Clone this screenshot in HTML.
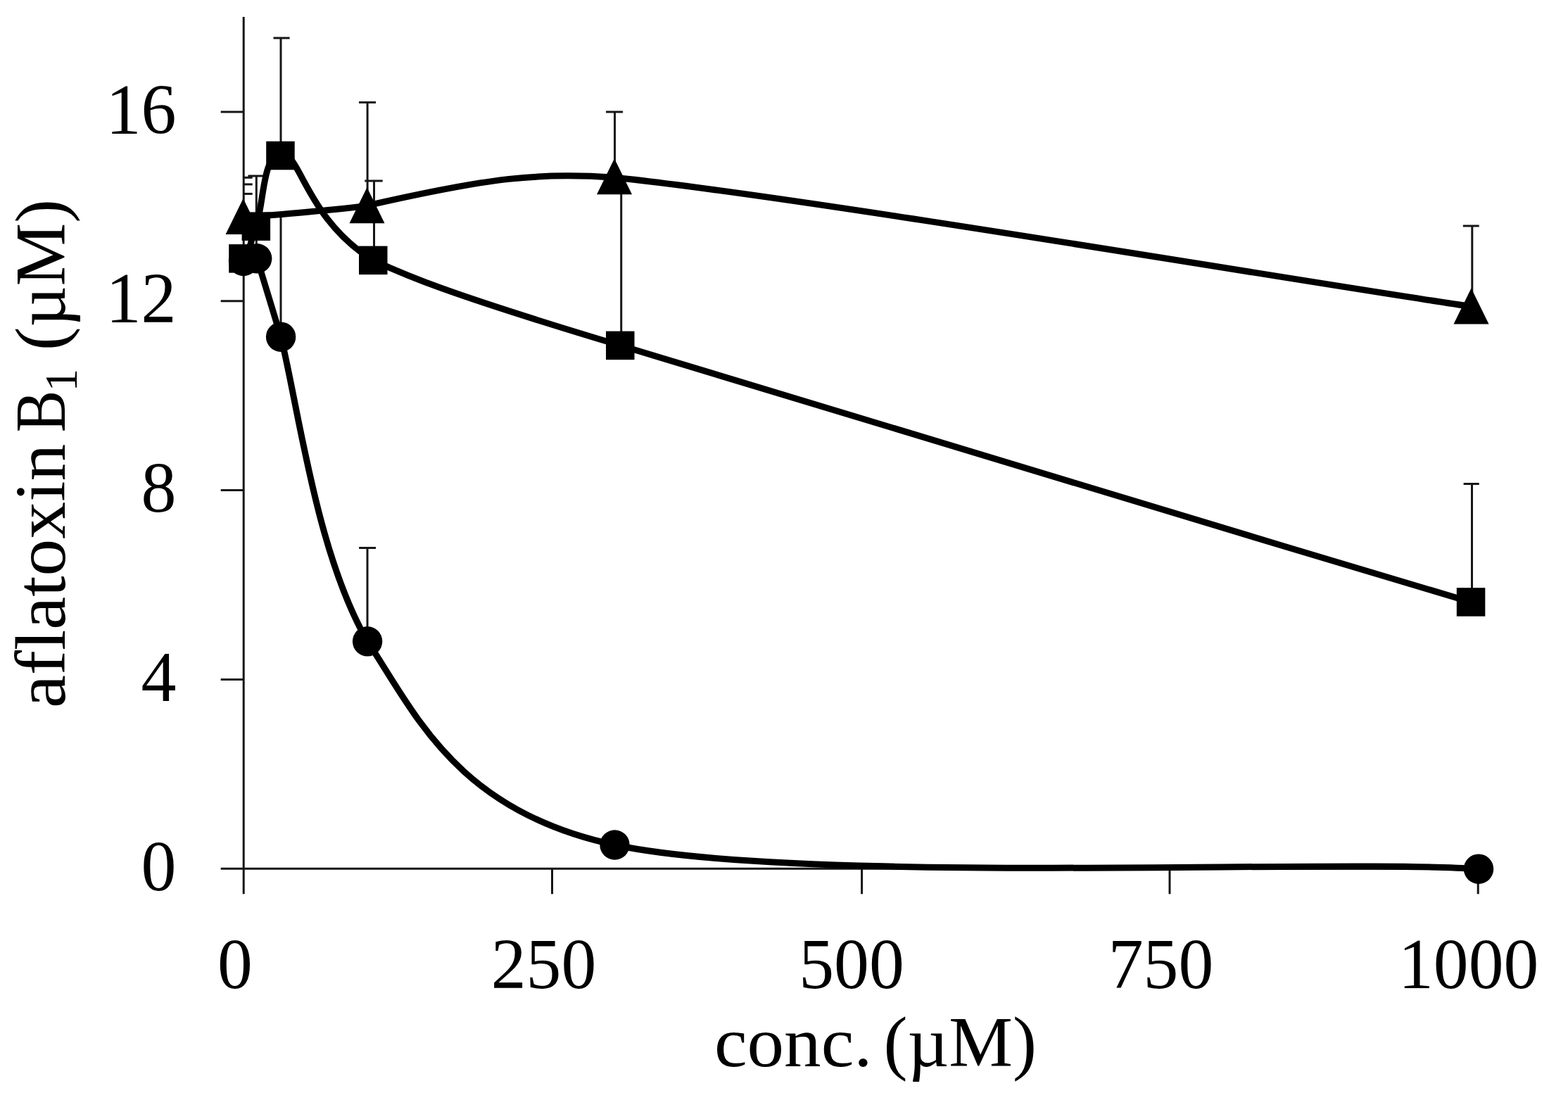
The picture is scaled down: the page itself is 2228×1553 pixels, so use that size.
<!DOCTYPE html>
<html lang="en">
<head>
<meta charset="utf-8">
<title>aflatoxin B1 vs conc.</title>
<style>
html,body{margin:0;padding:0;background:#fff;}
body{width:2228px;height:1553px;overflow:hidden;}
svg{display:block;filter:blur(0.6px);}
text{font-family:"Liberation Serif", serif;fill:#000;}
</style>
</head>
<body>
<svg width="2228" height="1553" viewBox="0 0 2228 1553">
<rect width="2228" height="1553" fill="#fff"/>
<g stroke="#161616" stroke-width="3" fill="none">
<line x1="346.2" y1="24" x2="346.2" y2="1270.3"/>
<line x1="313.7" y1="1234.2" x2="2100" y2="1234.2"/>
<line x1="313.7" y1="965.4" x2="346.2" y2="965.4"/>
<line x1="313.7" y1="696.6" x2="346.2" y2="696.6"/>
<line x1="313.7" y1="427.8" x2="346.2" y2="427.8"/>
<line x1="313.7" y1="159.0" x2="346.2" y2="159.0"/>
<line x1="784.5" y1="1234.2" x2="784.5" y2="1270.3"/>
<line x1="1224.6" y1="1234.2" x2="1224.6" y2="1270.3"/>
<line x1="1662.0" y1="1234.2" x2="1662.0" y2="1270.3"/>
<line x1="2100.2" y1="1234.2" x2="2100.2" y2="1270.3"/>
</g>
<g stroke="#161616" stroke-width="3" fill="none">
<line x1="399.0" y1="54.0" x2="399.0" y2="221.0"/>
<line x1="388.5" y1="54.0" x2="411.6" y2="54.0"/>
<line x1="399" y1="303" x2="399" y2="478"/>
<line x1="522.1" y1="145.5" x2="522.1" y2="292.0"/>
<line x1="510.0" y1="145.5" x2="534.0" y2="145.5"/>
<line x1="531.5" y1="257.0" x2="531.5" y2="370.0"/>
<line x1="518.3" y1="257.0" x2="543.7" y2="257.0"/>
<line x1="522.0" y1="778.5" x2="522.0" y2="911.0"/>
<line x1="510.1" y1="778.5" x2="534.1" y2="778.5"/>
<line x1="873.5" y1="159.0" x2="873.5" y2="252.0"/>
<line x1="861.0" y1="159.0" x2="885.0" y2="159.0"/>
<line x1="882.7" y1="272.0" x2="882.7" y2="491.0"/>
<line x1="872.0" y1="272.0" x2="893.0" y2="272.0"/>
<line x1="2091.8" y1="321.0" x2="2091.8" y2="436.0"/>
<line x1="2078.8" y1="321.0" x2="2101.7" y2="321.0"/>
<line x1="2091.5" y1="687.5" x2="2091.5" y2="856.0"/>
<line x1="2079.6" y1="687.5" x2="2101.7" y2="687.5"/>
<line x1="364.3" y1="250.0" x2="364.3" y2="367.0"/>
<line x1="352.5" y1="250.0" x2="374.0" y2="250.0"/>
<line x1="346.2" y1="252.3" x2="358.7" y2="252.3"/>
<line x1="346.2" y1="261.9" x2="358.7" y2="261.9"/>
<line x1="346.2" y1="275.4" x2="358.7" y2="275.4"/>
</g>
<g stroke="#000" stroke-width="9" fill="none" stroke-linejoin="round" stroke-linecap="round">
<path d="M345.6 308.0 C373.7 307.2 480.5 297.8 521.5 292.2 C697.2 252.1 766.2 244.7 873.0 252.3 C1129.8 278.2 1889.7 406.6 2090.5 435.5"/>
<path d="M345.5 367.3 C356.9 356.3 355.3 342.1 363.8 321.7 C375.6 287.0 372.8 220.6 398.5 221.0 C425.2 208.8 432.2 309.8 530.2 369.9 C576.0 390.8 628.0 414.8 881.2 490.8 C1282.0 615.2 1686.5 734.7 2090.0 855.5"/>
<path d="M346.0 371.0 C349.2 370.4 356.3 349.4 365.2 367.3 C376.5 404.4 387.8 441.6 399.1 478.7 C423.3 574.4 448.7 784.6 522.1 911.3 C589.0 1011.9 647.8 1152.6 873.5 1200.5 C1137.2 1256.5 1894.8 1220.2 2101.0 1234.7"/>
</g>
<g fill="#000">
<polygon points="345.6,282.0 370.6,333.0 320.6,333.0"/>
<polygon points="521.5,266.2 546.5,317.2 496.5,317.2"/>
<polygon points="873.0,225.2 898.0,276.2 848.0,276.2"/>
<polygon points="2090.5,409.5 2115.5,460.5 2065.5,460.5"/>
<rect x="325.2" y="347.1" width="40.5" height="40.5"/>
<rect x="343.6" y="301.4" width="40.5" height="40.5"/>
<rect x="378.2" y="200.8" width="40.5" height="40.5"/>
<rect x="510.0" y="349.6" width="40.5" height="40.5"/>
<rect x="861.0" y="470.6" width="40.5" height="40.5"/>
<rect x="2069.8" y="835.2" width="40.5" height="40.5"/>
<circle cx="346.0" cy="371.0" r="21.2"/>
<circle cx="365.2" cy="367.3" r="21.2"/>
<circle cx="399.1" cy="478.7" r="21.2"/>
<circle cx="522.1" cy="911.3" r="21.2"/>
<circle cx="873.5" cy="1200.5" r="21.2"/>
<circle cx="2101.0" cy="1234.7" r="21.2"/>
</g>
<g font-size="102" letter-spacing="0">
<text x="250.5" y="1264.7" text-anchor="end" textLength="50.0" lengthAdjust="spacingAndGlyphs">0</text>
<text x="250.5" y="995.9" text-anchor="end" textLength="50.0" lengthAdjust="spacingAndGlyphs">4</text>
<text x="250.5" y="727.1" text-anchor="end" textLength="50.0" lengthAdjust="spacingAndGlyphs">8</text>
<text x="250.5" y="458.3" text-anchor="end" textLength="100.0" lengthAdjust="spacingAndGlyphs">12</text>
<text x="250.5" y="189.5" text-anchor="end" textLength="100.0" lengthAdjust="spacingAndGlyphs">16</text>
<text x="333.9" y="1403.5" text-anchor="middle" textLength="49.8" lengthAdjust="spacingAndGlyphs">0</text>
<text x="772.5" y="1403.5" text-anchor="middle" textLength="149.5" lengthAdjust="spacingAndGlyphs">250</text>
<text x="1210.0" y="1403.5" text-anchor="middle" textLength="149.5" lengthAdjust="spacingAndGlyphs">500</text>
<text x="1649.5" y="1403.5" text-anchor="middle" textLength="149.5" lengthAdjust="spacingAndGlyphs">750</text>
<text x="2086.7" y="1403.5" text-anchor="middle" textLength="199.3" lengthAdjust="spacingAndGlyphs">1000</text>
<text y="1515"><tspan x="1015.0" textLength="224.5" lengthAdjust="spacingAndGlyphs">conc.</tspan><tspan x="1230.0"> (µM)</tspan></text>
<text transform="translate(92.0,0) rotate(-90)" y="0"><tspan x="-1006.0" textLength="375.3" lengthAdjust="spacingAndGlyphs">aflatoxin</tspan><tspan x="-636.7" textLength="82.0" lengthAdjust="spacingAndGlyphs"> B</tspan><tspan x="-556.5" dy="17.0" font-size="65.5">1</tspan><tspan x="-523.3" dy="-17.0" textLength="240.0" lengthAdjust="spacingAndGlyphs"> (µM)</tspan></text>
</g>
</svg>
</body>
</html>
